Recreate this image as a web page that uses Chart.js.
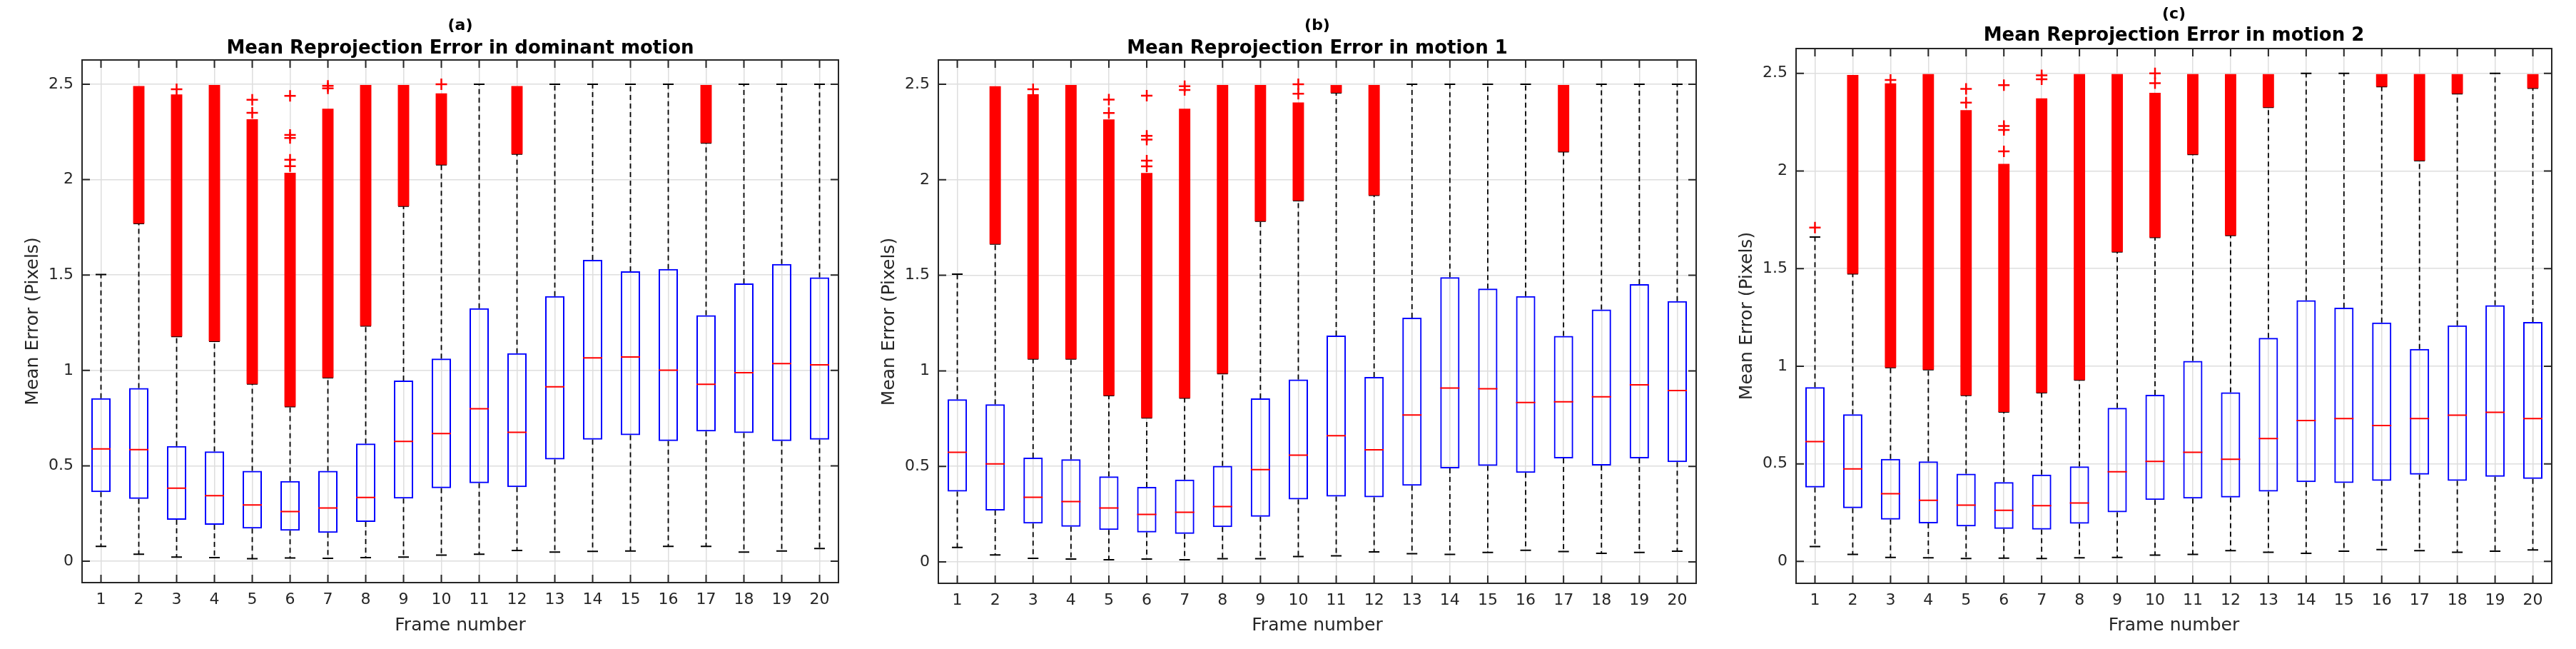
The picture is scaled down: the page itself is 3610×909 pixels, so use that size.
<!DOCTYPE html>
<html>
<head>
<meta charset="utf-8">
<script src="https://cdn.jsdelivr.net/npm/chart.js@4/dist/chart.umd.min.js"></script>
<style>
  body { margin: 0; background: #fff; width: 3610px; height: 909px; position: relative; overflow: hidden; }
  canvas { position: absolute; top: 0; }
</style>
</head>
<body>
<canvas id="chartA" width="1200" height="909" style="left:0px"></canvas>
<canvas id="chartB" width="1200" height="909" style="left:1200px"></canvas>
<canvas id="chartC" width="1210" height="909" style="left:2400px"></canvas>
<script>
const frames = ['1','2','3','4','5','6','7','8','9','10','11','12','13','14','15','16','17','18','19','20'];
const yTicks = [0, 0.5, 1, 1.5, 2, 2.5];

// (a) dominant motion
const aQ1 = [0.362,0.327,0.217,0.191,0.171,0.160,0.149,0.206,0.329,0.383,0.409,0.388,0.533,0.637,0.661,0.630,0.680,0.672,0.630,0.637];
const aMedian = [0.589,0.585,0.383,0.344,0.295,0.260,0.279,0.334,0.628,0.669,0.799,0.676,0.914,1.066,1.070,1.001,0.927,0.988,1.036,1.029];
const aQ3 = [0.854,0.908,0.604,0.576,0.474,0.420,0.474,0.617,0.947,1.062,1.326,1.090,1.389,1.579,1.519,1.532,1.289,1.456,1.558,1.488];
const aLow = [0.078,0.037,0.022,0.019,0.013,0.017,0.015,0.019,0.022,0.032,0.037,0.056,0.048,0.052,0.054,0.078,0.078,0.048,0.054,0.067];
const aHigh = [1.503,1.770,1.178,1.153,0.929,0.810,0.962,1.233,1.861,2.078,2.5,2.134,2.5,2.5,2.5,2.5,2.192,2.5,2.5,2.5];
const aOutFrom = [null,1.770,1.178,1.153,0.929,0.810,0.962,1.233,1.861,2.078,null,2.134,null,null,null,null,2.192,null,null,null];
const aOutTo = [null,2.490,2.446,2.496,2.316,2.036,2.372,2.496,2.496,2.452,null,2.490,null,null,null,null,2.496,null,null,null];
const aSingles = [[3,2.474],[5,2.35],[5,2.418],[6,2.07],[6,2.104],[6,2.218],[6,2.234],[6,2.439],[7,2.478],[7,2.491],[10,2.5]];

// (b) motion 1
const bQ1 = [0.368,0.269,0.201,0.184,0.167,0.154,0.147,0.182,0.236,0.327,0.342,0.338,0.399,0.490,0.503,0.466,0.542,0.505,0.542,0.522];
const bMedian = [0.574,0.513,0.338,0.316,0.282,0.249,0.260,0.290,0.483,0.559,0.661,0.587,0.769,0.910,0.906,0.834,0.838,0.864,0.927,0.897];
const bQ3 = [0.851,0.825,0.546,0.537,0.448,0.392,0.431,0.503,0.856,0.955,1.185,0.968,1.278,1.490,1.430,1.391,1.183,1.321,1.454,1.365];
const bLow = [0.076,0.037,0.019,0.015,0.011,0.015,0.011,0.017,0.017,0.028,0.032,0.052,0.043,0.039,0.050,0.061,0.054,0.045,0.050,0.056];
const bHigh = [1.506,1.664,1.062,1.062,0.871,0.754,0.858,0.986,1.783,1.891,2.455,1.919,2.5,2.5,2.5,2.5,2.147,2.5,2.5,2.5];
const bOutFrom = [null,1.664,1.062,1.062,0.871,0.754,0.858,0.986,1.783,1.891,2.455,1.919,null,null,null,null,2.147,null,null,null];
const bOutTo = [null,2.490,2.448,2.496,2.316,2.036,2.372,2.496,2.496,2.405,2.496,2.496,null,null,null,null,2.496,null,null,null];
const bSingles = [[3,2.474],[5,2.35],[5,2.42],[6,2.07],[6,2.10],[6,2.21],[6,2.23],[6,2.44],[7,2.47],[7,2.49],[10,2.45],[10,2.5]];

// (c) motion 2
const cQ1 = [0.379,0.273,0.214,0.195,0.180,0.167,0.163,0.193,0.252,0.315,0.322,0.328,0.358,0.406,0.402,0.413,0.445,0.413,0.434,0.423];
const cMedian = [0.614,0.474,0.347,0.313,0.288,0.262,0.286,0.299,0.459,0.512,0.559,0.523,0.629,0.722,0.732,0.696,0.732,0.749,0.764,0.732];
const cQ3 = [0.893,0.754,0.525,0.512,0.449,0.406,0.445,0.487,0.787,0.853,1.027,0.866,1.145,1.338,1.300,1.224,1.088,1.209,1.312,1.226];
const cLow = [0.076,0.036,0.021,0.019,0.015,0.017,0.015,0.019,0.021,0.032,0.036,0.055,0.047,0.042,0.053,0.061,0.055,0.047,0.053,0.059];
const cHigh = [1.662,1.473,0.993,0.982,0.851,0.766,0.864,0.929,1.586,1.660,2.085,1.670,2.326,2.5,2.5,2.432,2.053,2.396,2.5,2.424];
const cOutFrom = [null,1.473,0.993,0.982,0.851,0.766,0.864,0.929,1.586,1.660,2.085,1.670,2.326,null,null,2.432,2.053,2.396,null,2.424];
const cOutTo = [null,2.492,2.449,2.496,2.312,2.036,2.372,2.496,2.496,2.400,2.496,2.496,2.496,null,null,2.496,2.496,2.496,null,2.496];
const cSingles = [[1,1.71],[3,2.466],[5,2.35],[5,2.42],[6,2.10],[6,2.21],[6,2.23],[6,2.44],[7,2.47],[7,2.49],[10,2.45],[10,2.5]];

const FONT = 'DejaVu Sans';
const AXIS = '#262626';
const GRID = '#dedede';

// MATLAB style box: frame on all sides with inward ticks
const frameBox = {
  id: 'frameBox',
  afterDatasetsDraw(chart) {
    const { ctx, chartArea: a, scales: { x, y } } = chart;
    const len = 11;
    ctx.save();
    ctx.strokeStyle = AXIS;
    ctx.lineWidth = 2;
    ctx.beginPath();
    x.ticks.forEach((t, i) => {
      const px = x.getPixelForTick(i);
      ctx.moveTo(px, a.top); ctx.lineTo(px, a.top + len);
      ctx.moveTo(px, a.bottom); ctx.lineTo(px, a.bottom - len);
    });
    y.ticks.forEach((t, i) => {
      const py = y.getPixelForTick(i);
      ctx.moveTo(a.left, py); ctx.lineTo(a.left + len, py);
      ctx.moveTo(a.right, py); ctx.lineTo(a.right - len, py);
    });
    ctx.stroke();
    ctx.strokeRect(a.left, a.top, a.right - a.left, a.bottom - a.top);
    ctx.restore();
  }
};

function whiskers(q1, q3, lo, hi) {
  const pts = [];
  frames.forEach((f, i) => {
    pts.push({ x: f, y: q3[i] }, { x: f, y: hi[i] }, { x: f, y: null });
    pts.push({ x: f, y: q1[i] }, { x: f, y: lo[i] }, { x: f, y: null });
  });
  return pts;
}

function caps(lo, hi) {
  const pts = [];
  frames.forEach((f, i) => { pts.push({ x: f, y: lo[i] }, { x: f, y: hi[i] }); });
  return pts;
}

function makeChart(id, p) {
  new Chart(document.getElementById(id), {
    type: 'bar',
    data: {
      labels: frames,
      datasets: [
        {
          type: 'line', label: 'singles', order: 0,
          data: p.singles.map(s => ({ x: String(s[0]), y: s[1] })),
          showLine: false, pointStyle: 'cross', pointRadius: 8, pointHoverRadius: 8,
          pointBorderColor: '#ff0000', pointBorderWidth: 2.5
        },
        {
          type: 'bar', label: 'outliers', order: 1, grouped: false,
          data: p.outFrom.map((v, i) => v === null ? null : [v, p.outTo[i]]),
          backgroundColor: '#ff0000', borderWidth: 0,
          barPercentage: 0.3, categoryPercentage: 1
        },
        {
          type: 'line', label: 'median', order: 2,
          data: p.median,
          showLine: false, pointStyle: 'line', pointRadius: 13.5, pointHoverRadius: 13.5,
          pointBorderColor: '#ff0000', pointBorderWidth: 2
        },
        {
          type: 'line', label: 'caps', order: 3,
          data: caps(p.low, p.high),
          showLine: false, pointStyle: 'line', pointRadius: 7.5, pointHoverRadius: 7.5,
          pointBorderColor: '#000000', pointBorderWidth: 2
        },
        {
          type: 'line', label: 'whiskers', order: 4,
          data: whiskers(p.q1, p.q3, p.low, p.high),
          borderColor: '#000000', borderWidth: 1.8, borderDash: [7, 5],
          pointRadius: 0, spanGaps: false
        },
        {
          type: 'bar', label: 'box', order: 5, grouped: false,
          data: p.q1.map((v, i) => [v, p.q3[i]]),
          backgroundColor: 'rgba(0,0,0,0)', borderColor: '#0000ff', borderWidth: 2,
          borderSkipped: false, barPercentage: 0.51, categoryPercentage: 1
        }
      ]
    },
    options: {
      responsive: false,
      animation: false,
      events: [],
      layout: { padding: { left: 0, top: 0, bottom: 0, right: p.rightPad } },
      plugins: {
        legend: { display: false },
        tooltip: { enabled: false },
        title: {
          display: true, fullSize: false, text: p.tag, color: '#000',
          font: { family: FONT, size: 22, weight: 'bold', lineHeight: 1.2 },
          padding: { top: p.tagPad, bottom: 0 }
        },
        subtitle: {
          display: true, fullSize: false, text: p.title, color: '#000',
          font: { family: FONT, size: 26, weight: 'bold', lineHeight: 1.2 },
          padding: { top: p.titlePadTop, bottom: p.titlePadBottom }
        }
      },
      scales: {
        x: {
          type: 'category', offset: true,
          grid: { offset: false, color: GRID, lineWidth: 1.5, drawTicks: false },
          border: { display: false },
          ticks: { padding: 11, color: AXIS, autoSkip: false, maxRotation: 0,
                   font: { family: FONT, size: 22, lineHeight: 1.2 } },
          title: { display: true, text: 'Frame number', color: AXIS,
                   font: { family: FONT, size: 25, lineHeight: 1.2 }, padding: { top: 0, bottom: 18 } },
          afterFit(s) { s.height = p.xHeight; }
        },
        y: {
          type: 'linear', min: -0.112, max: 2.627,
          afterBuildTicks(s) { s.ticks = yTicks.map(v => ({ value: v })); },
          grid: { color: GRID, lineWidth: 1.5, drawTicks: false },
          border: { display: false },
          ticks: { padding: 12, color: AXIS, callback: v => String(v),
                   font: { family: FONT, size: 22, lineHeight: 1.2 } },
          title: { display: true, text: 'Mean Error (Pixels)', color: AXIS,
                   font: { family: FONT, size: 25, lineHeight: 1.2 }, padding: { top: p.yTitlePad, bottom: 0 } },
          afterFit(s) { s.width = p.yWidth; }
        }
      }
    },
    plugins: [frameBox]
  });
}

makeChart('chartA', {
  tag: '(a)', title: 'Mean Reprojection Error in dominant motion',
  q1: aQ1, median: aMedian, q3: aQ3, low: aLow, high: aHigh, outFrom: aOutFrom, outTo: aOutTo, singles: aSingles,
  yWidth: 115, rightPad: 25, xHeight: 93, tagPad: 22.8, titlePadTop: 3.6, titlePadBottom: 0, yTitlePad: 31
});
makeChart('chartB', {
  tag: '(b)', title: 'Mean Reprojection Error in motion 1',
  q1: bQ1, median: bMedian, q3: bQ3, low: bLow, high: bHigh, outFrom: bOutFrom, outTo: bOutTo, singles: bSingles,
  yWidth: 115, rightPad: 23, xHeight: 92, tagPad: 22.8, titlePadTop: 3.6, titlePadBottom: 0, yTitlePad: 31
});
makeChart('chartC', {
  tag: '(c)', title: 'Mean Reprojection Error in motion 2',
  q1: cQ1, median: cMedian, q3: cQ3, low: cLow, high: cHigh, outFrom: cOutFrom, outTo: cOutTo, singles: cSingles,
  yWidth: 117, rightPad: 34, xHeight: 92, tagPad: 6.8, titlePadTop: 1.6, titlePadBottom: 2, yTitlePad: 33
});
</script>
</body>
</html>
